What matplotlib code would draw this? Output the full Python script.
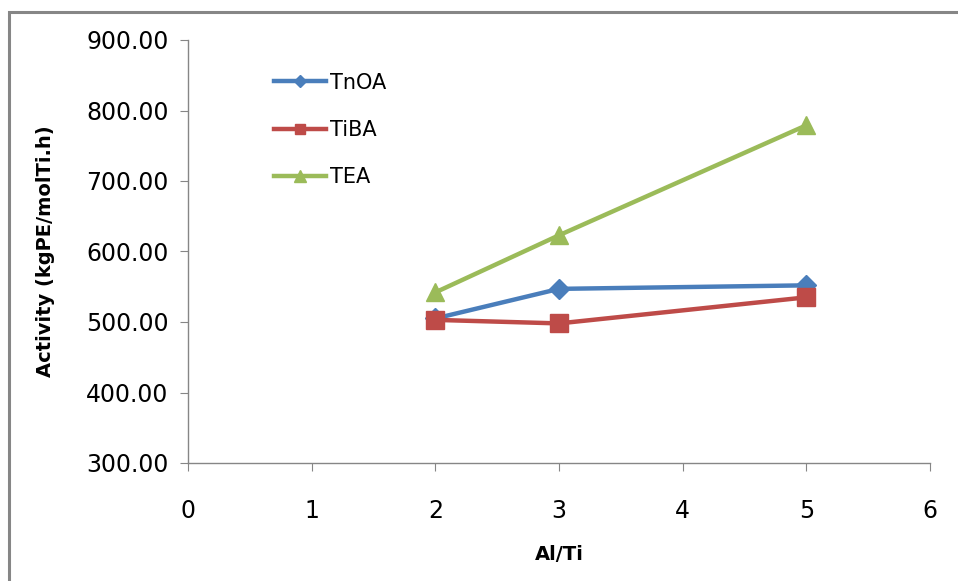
import matplotlib
matplotlib.use("Agg")
import matplotlib.pyplot as plt
from matplotlib.patches import Rectangle

x_vals = [2, 3, 5]
tnoa = [505, 547, 552]
tiba = [503, 498, 535]
tea = [542, 623, 779]
series_names = ["TnOA", "TiBA", "TEA"]
colors = ["#4A7EBB", "#BE4B48", "#9BBB59"]
markers = ["D", "s", "^"]
msizes = [10, 12.5, 13.5]

fig = plt.figure(figsize=(9.58, 5.81), dpi=100)
fig.patches.append(Rectangle((9/958, -0.1), 1.2, (581-12)/581 + 0.1,
                             transform=fig.transFigure, fill=False,
                             edgecolor="#868686", linewidth=2.2))
ax = fig.add_axes([188/958, (581-463)/581, (930-188)/958, (463-40)/581])

for ys, name, c, m, ms in zip([tnoa, tiba, tea], series_names, colors, markers, msizes):
    ax.plot(x_vals, ys, color=c, marker=m, markersize=ms, linewidth=3.2, label=name,
            markeredgecolor=c)

ax.set_xlim(0, 6)
ax.set_ylim(300, 900)
ax.set_xticks(range(0, 7))
ax.set_yticks(range(300, 901, 100))
ax.set_yticklabels([f"{v:.2f}" for v in range(300, 901, 100)])
for s in ["top", "right"]:
    ax.spines[s].set_visible(False)
for s in ["left", "bottom"]:
    ax.spines[s].set_color("#868686")
    ax.spines[s].set_linewidth(1)
ax.tick_params(axis="both", colors="#868686", labelcolor="black", direction="out",
               length=6, labelsize=17)
ax.tick_params(axis="x", pad=20)
ax.tick_params(axis="y", pad=8)

ax.set_xlabel("Al/Ti", fontsize=14, fontweight="bold", labelpad=16)
ax.set_ylabel("Activity (kgPE/molTi.h)", fontsize=14, fontweight="bold", labelpad=22)

leg = ax.legend(loc="upper left", bbox_to_anchor=(255/958, (581-54)/581),
                bbox_transform=fig.transFigure, frameon=False, fontsize=15,
                labelspacing=1.3, handlelength=2.5, handletextpad=0.2,
                markerscale=0.6)

fig.savefig("out.png", dpi=100)
